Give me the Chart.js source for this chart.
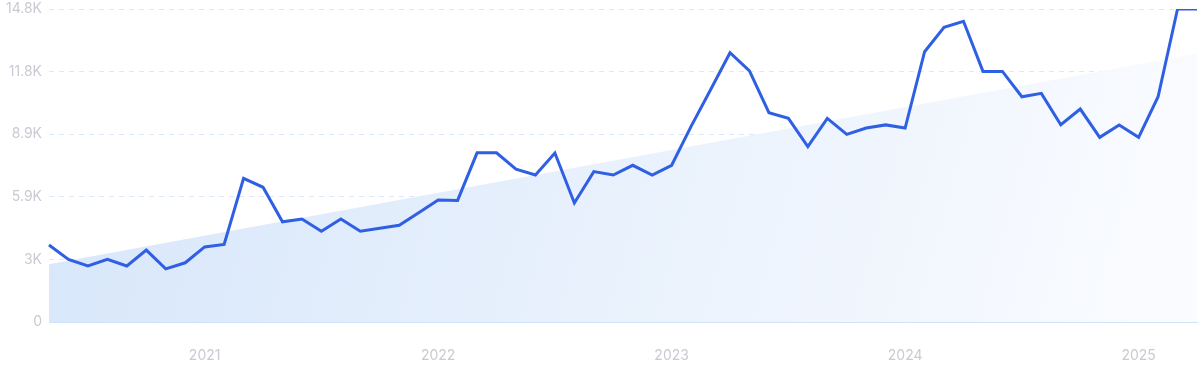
<!DOCTYPE html>
<html>
<head>
<meta charset="utf-8">
<script src="https://cdn.jsdelivr.net/npm/chart.js@4/dist/chart.umd.min.js"></script>
<style>
  html, body { margin: 0; padding: 0; background: #fff; }
  #wrap { width: 1200px; height: 371px; }
</style>
</head>
<body>
<div id="wrap"><canvas id="chart"></canvas></div>
<script>
// monthly points, May 2020 .. Apr 2025
const months = [];
for (let y = 2020; y <= 2025; y++) {
  for (let m = 1; m <= 12; m++) {
    if ((y === 2020 && m < 5) || (y === 2025 && m > 4)) continue;
    months.push(y + "-" + String(m).padStart(2, "0"));
  }
}

const searches = [
  3640, 2960, 2650, 2960, 2650, 3400, 2510, 2800,
  3550, 3670, 6790, 6370, 4740, 4870, 4290, 4870, 4290, 4430, 4570, 5170, 5770, 5750,
  8000, 8000, 7230, 6950, 7990, 5630, 7110, 6950, 7410, 6950, 7410, 9250,
  10980, 12730, 11870, 9900, 9630, 8290, 9630, 8870, 9170, 9320, 9170, 12780,
  13930, 14220, 11850, 11850, 10650, 10810, 9330, 10070, 8730, 9310, 8730, 10650,
  14800, 14800
];

// straight trend line, first and last month only
const trendStart = 2730;
const trendEnd = 12700;

const yTicks = [0, 2960, 5920, 8880, 11840, 14800];
const yTickLabels = ["0", "3K", "5.9K", "8.9K", "11.8K", "14.8K"];

const textColor = "#c9cad3";
const gridColor = "#d9e8fa";

function trendFill(context) {
  const area = context.chart.chartArea;
  if (!area) return "rgba(220,233,250,1)";
  const g = context.chart.ctx.createLinearGradient(area.left, area.top, area.right, area.bottom);
  g.addColorStop(0, "rgba(214,230,250,1)");
  g.addColorStop(1, "rgba(251,252,255,1)");
  return g;
}

new Chart(document.getElementById("chart"), {
  type: "line",
  data: {
    labels: months,
    datasets: [
      {
        data: searches,
        borderColor: "#2f5fe3",
        borderWidth: 3,
        pointRadius: 0,
        tension: 0,
        fill: false,
        order: 0,
      },
      {
        data: [
          { x: months[0], y: trendStart },
          { x: months[months.length - 1], y: trendEnd },
        ],
        borderWidth: 0,
        borderColor: "rgba(0,0,0,0)",
        backgroundColor: trendFill,
        pointRadius: 0,
        fill: "origin",
        order: 1,
      },
    ],
  },
  options: {
    responsive: true,
    maintainAspectRatio: false,
    animation: false,
    layout: { padding: { top: 9, right: 3, left: 0, bottom: 0 } },
    plugins: { legend: { display: false }, tooltip: { enabled: false } },
    scales: {
      x: {
        offset: false,
        grid: { display: false, drawTicks: false },
        border: { display: true, color: "#cfe3fa", width: 1 },
        ticks: {
          autoSkip: false,
          maxRotation: 0,
          padding: 25,
          color: textColor,
          font: { family: "Inter", size: 14 },
          callback: function (value) {
            const label = this.getLabelForValue(value);
            return label.endsWith("-01") ? label.slice(0, 4) : null;
          },
        },
        afterFit: (s) => { s.height = 49; s.paddingLeft = 0; s.paddingRight = 0; },
      },
      y: {
        min: 0,
        max: 14800,
        afterBuildTicks: (s) => { s.ticks = yTicks.map((v) => ({ value: v })); },
        grid: {
          color: (ctx) => (ctx.tick && ctx.tick.value === 0 ? "rgba(0,0,0,0)" : gridColor),
          drawTicks: false,
        },
        border: { display: false, dash: [5, 5] },
        ticks: {
          padding: 7,
          color: textColor,
          font: { family: "Inter", size: 14 },
          callback: (value) => yTickLabels[yTicks.indexOf(value)],
        },
        afterFit: (s) => { s.width = 49; s.paddingTop = 0; s.paddingBottom = 0; },
      },
    },
  },
});
</script>
</body>
</html>
